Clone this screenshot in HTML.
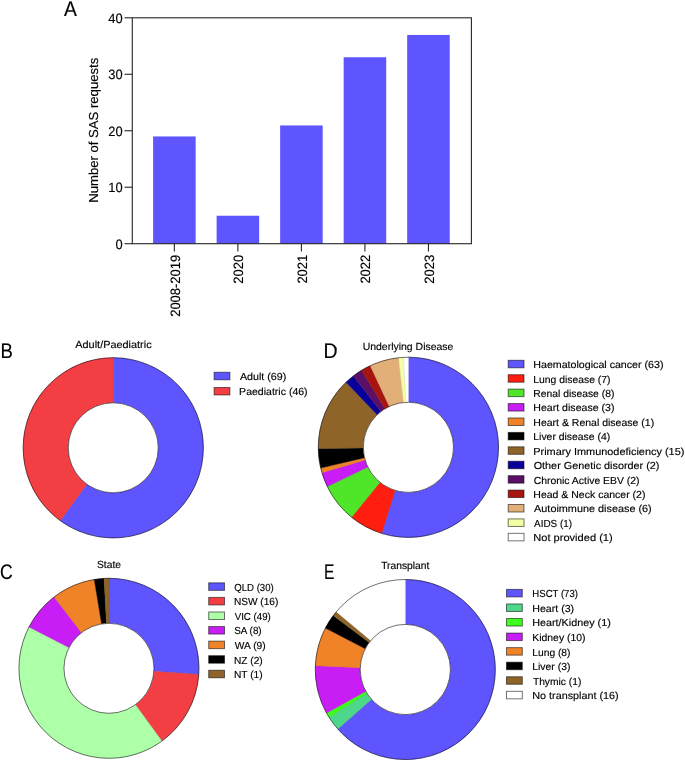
<!DOCTYPE html>
<html><head><meta charset="utf-8"><style>
html,body{margin:0;padding:0;background:#fff;width:685px;height:761px;overflow:hidden}
svg{display:block;will-change:transform;font-family:"Liberation Sans", sans-serif;text-rendering:geometricPrecision}
text{fill:#000;stroke:#000;stroke-width:0.15px}
</style></head><body>
<svg width="685" height="761" viewBox="0 0 685 761">
<rect x="153.10" y="136.45" width="42.55" height="107.25" fill="#5E55FF"/>
<rect x="216.62" y="215.75" width="42.55" height="27.95" fill="#5E55FF"/>
<rect x="280.14" y="125.45" width="42.55" height="118.25" fill="#5E55FF"/>
<rect x="343.66" y="57.25" width="42.55" height="186.45" fill="#5E55FF"/>
<rect x="407.18" y="34.95" width="42.55" height="208.75" fill="#5E55FF"/>
<line x1="174.37" y1="243.7" x2="174.37" y2="251.4" stroke="#262626" stroke-width="1.1"/>
<text transform="translate(179.72,255.35) rotate(-90) scale(0.9550,1)" x="-64.40" font-size="13.6">2008-2019</text>
<line x1="237.89" y1="243.7" x2="237.89" y2="251.4" stroke="#262626" stroke-width="1.1"/>
<text transform="translate(243.24,255.35) rotate(-90) scale(0.9550,1)" x="-29.72" font-size="13.6">2020</text>
<line x1="301.41" y1="243.7" x2="301.41" y2="251.4" stroke="#262626" stroke-width="1.1"/>
<text transform="translate(306.76,255.35) rotate(-90) scale(0.9550,1)" x="-29.58" font-size="13.6">2021</text>
<line x1="364.93" y1="243.7" x2="364.93" y2="251.4" stroke="#262626" stroke-width="1.1"/>
<text transform="translate(370.28,255.35) rotate(-90) scale(0.9550,1)" x="-29.58" font-size="13.6">2022</text>
<line x1="428.45" y1="243.7" x2="428.45" y2="251.4" stroke="#262626" stroke-width="1.1"/>
<text transform="translate(433.80,255.35) rotate(-90) scale(0.9550,1)" x="-29.65" font-size="13.6">2023</text>
<rect x="132.3" y="17.8" width="339.10" height="225.90" fill="none" stroke="#262626" stroke-width="1.1"/>
<line x1="124.5" y1="243.70" x2="132.3" y2="243.70" stroke="#262626" stroke-width="1.1"/>
<text transform="translate(115.51,248.75) scale(0.9550,1)" font-size="13.5">0</text>
<line x1="124.5" y1="187.22" x2="132.3" y2="187.22" stroke="#262626" stroke-width="1.1"/>
<text transform="translate(108.36,192.28) scale(0.9550,1)" font-size="13.5">10</text>
<line x1="124.5" y1="130.75" x2="132.3" y2="130.75" stroke="#262626" stroke-width="1.1"/>
<text transform="translate(108.36,135.80) scale(0.9550,1)" font-size="13.5">20</text>
<line x1="124.5" y1="74.28" x2="132.3" y2="74.28" stroke="#262626" stroke-width="1.1"/>
<text transform="translate(108.36,79.33) scale(0.9550,1)" font-size="13.5">30</text>
<line x1="124.5" y1="17.80" x2="132.3" y2="17.80" stroke="#262626" stroke-width="1.1"/>
<text transform="translate(108.36,22.85) scale(0.9550,1)" font-size="13.5">40</text>
<text transform="translate(98.10,130.00) rotate(-90) scale(1.0085,1)" x="-72.18" font-size="13.0">Number of SAS requests</text>
<text transform="translate(63.90,15.80) scale(0.9112,1)" font-size="21.2" stroke="#000" stroke-width="0.25">A</text>
<text transform="translate(0.47,358.10) scale(0.8729,1)" font-size="21.2" stroke="#000" stroke-width="0.25">B</text>
<text transform="translate(0.07,579.40) scale(0.8311,1)" font-size="21.2" stroke="#000" stroke-width="0.25">C</text>
<text transform="translate(323.59,357.90) scale(0.9196,1)" font-size="21.2" stroke="#000" stroke-width="0.25">D</text>
<text transform="translate(323.90,579.30) scale(0.7357,1)" font-size="21.2" stroke="#000" stroke-width="0.25">E</text>
<text transform="translate(75.30,347.60) scale(1.0579,1)" font-size="10.3">Adult/Paediatric</text>
<text transform="translate(362.66,349.70) scale(1.0163,1)" font-size="10.3">Underlying Disease</text>
<text transform="translate(96.99,567.60) scale(0.9990,1)" font-size="10.3">State</text>
<text transform="translate(381.14,569.10) scale(0.9980,1)" font-size="10.3">Transplant</text>
<path d="M113.25,357.70A90.1,90.1 0 1 1 60.29,520.69L86.80,484.21A45.0,45.0 0 1 0 113.25,402.80Z" fill="#5E55FF" stroke="#5E55FF" stroke-width="0.35"/>
<path d="M60.29,520.69A90.1,90.1 0 0 1 113.25,357.70L113.25,402.80A45.0,45.0 0 0 0 86.80,484.21Z" fill="#F33E44" stroke="#F33E44" stroke-width="0.35"/>
<line x1="113.25" y1="402.80" x2="113.25" y2="357.70" stroke="#000" stroke-opacity="0.25" stroke-width="0.35"/>
<line x1="86.80" y1="484.21" x2="60.29" y2="520.69" stroke="#000" stroke-opacity="0.25" stroke-width="0.35"/>
<circle cx="113.25" cy="447.8" r="90.1" fill="none" stroke="#000" stroke-opacity="0.7" stroke-width="0.8"/>
<circle cx="113.25" cy="447.8" r="45.0" fill="#fff" stroke="#000" stroke-opacity="0.7" stroke-width="0.8"/>
<path d="M408.40,357.20A90.1,90.1 0 1 1 381.73,533.36L395.05,490.38A45.1,45.1 0 1 0 408.40,402.20Z" fill="#5E55FF" stroke="#5E55FF" stroke-width="0.35"/>
<path d="M381.73,533.36A90.1,90.1 0 0 1 351.54,517.19L379.94,482.28A45.1,45.1 0 0 0 395.05,490.38Z" fill="#FF1E10" stroke="#FF1E10" stroke-width="0.35"/>
<path d="M351.54,517.19A90.1,90.1 0 0 1 327.30,486.55L367.80,466.95A45.1,45.1 0 0 0 379.94,482.28Z" fill="#4FE62A" stroke="#4FE62A" stroke-width="0.35"/>
<path d="M327.30,486.55A90.1,90.1 0 0 1 321.98,472.79L365.14,460.06A45.1,45.1 0 0 0 367.80,466.95Z" fill="#C81EF5" stroke="#C81EF5" stroke-width="0.35"/>
<path d="M321.98,472.79A90.1,90.1 0 0 1 320.72,468.03L364.51,457.68A45.1,45.1 0 0 0 365.14,460.06Z" fill="#F08228" stroke="#F08228" stroke-width="0.35"/>
<path d="M320.72,468.03A90.1,90.1 0 0 1 318.31,448.53L363.30,447.92A45.1,45.1 0 0 0 364.51,457.68Z" fill="#000000" stroke="#000000" stroke-width="0.35"/>
<path d="M318.31,448.53A90.1,90.1 0 0 1 346.01,382.30L377.17,414.76A45.1,45.1 0 0 0 363.30,447.92Z" fill="#8E6428" stroke="#8E6428" stroke-width="0.35"/>
<path d="M346.01,382.30A90.1,90.1 0 0 1 353.47,375.88L380.90,411.55A45.1,45.1 0 0 0 377.17,414.76Z" fill="#0A009A" stroke="#0A009A" stroke-width="0.35"/>
<path d="M353.47,375.88A90.1,90.1 0 0 1 361.59,370.32L384.97,408.77A45.1,45.1 0 0 0 380.90,411.55Z" fill="#5C0F66" stroke="#5C0F66" stroke-width="0.35"/>
<path d="M361.59,370.32A90.1,90.1 0 0 1 370.26,365.67L389.31,406.44A45.1,45.1 0 0 0 384.97,408.77Z" fill="#A8140E" stroke="#A8140E" stroke-width="0.35"/>
<path d="M370.26,365.67A90.1,90.1 0 0 1 398.57,357.74L403.48,402.47A45.1,45.1 0 0 0 389.31,406.44Z" fill="#E3AF78" stroke="#E3AF78" stroke-width="0.35"/>
<path d="M398.57,357.74A90.1,90.1 0 0 1 403.48,357.33L405.94,402.27A45.1,45.1 0 0 0 403.48,402.47Z" fill="#F5FFA3" stroke="#F5FFA3" stroke-width="0.35"/>
<path d="M403.48,357.33A90.1,90.1 0 0 1 408.40,357.20L408.40,402.20A45.1,45.1 0 0 0 405.94,402.27Z" fill="#FFFFFF" stroke="#FFFFFF" stroke-width="0.35"/>
<line x1="408.40" y1="402.20" x2="408.40" y2="357.20" stroke="#000" stroke-opacity="0.25" stroke-width="0.35"/>
<line x1="395.05" y1="490.38" x2="381.73" y2="533.36" stroke="#000" stroke-opacity="0.25" stroke-width="0.35"/>
<line x1="379.94" y1="482.28" x2="351.54" y2="517.19" stroke="#000" stroke-opacity="0.25" stroke-width="0.35"/>
<line x1="367.80" y1="466.95" x2="327.30" y2="486.55" stroke="#000" stroke-opacity="0.25" stroke-width="0.35"/>
<line x1="365.14" y1="460.06" x2="321.98" y2="472.79" stroke="#000" stroke-opacity="0.25" stroke-width="0.35"/>
<line x1="364.51" y1="457.68" x2="320.72" y2="468.03" stroke="#000" stroke-opacity="0.25" stroke-width="0.35"/>
<line x1="363.30" y1="447.92" x2="318.31" y2="448.53" stroke="#000" stroke-opacity="0.25" stroke-width="0.35"/>
<line x1="377.17" y1="414.76" x2="346.01" y2="382.30" stroke="#000" stroke-opacity="0.25" stroke-width="0.35"/>
<line x1="380.90" y1="411.55" x2="353.47" y2="375.88" stroke="#000" stroke-opacity="0.25" stroke-width="0.35"/>
<line x1="384.97" y1="408.77" x2="361.59" y2="370.32" stroke="#000" stroke-opacity="0.25" stroke-width="0.35"/>
<line x1="389.31" y1="406.44" x2="370.26" y2="365.67" stroke="#000" stroke-opacity="0.25" stroke-width="0.35"/>
<line x1="403.48" y1="402.47" x2="398.57" y2="357.74" stroke="#000" stroke-opacity="0.25" stroke-width="0.35"/>
<line x1="405.94" y1="402.27" x2="403.48" y2="357.33" stroke="#000" stroke-opacity="0.25" stroke-width="0.35"/>
<circle cx="408.4" cy="447.3" r="90.1" fill="none" stroke="#000" stroke-opacity="0.7" stroke-width="0.8"/>
<circle cx="408.4" cy="447.3" r="45.1" fill="#fff" stroke="#000" stroke-opacity="0.7" stroke-width="0.8"/>
<path d="M108.95,578.30A90.0,90.0 0 0 1 198.74,674.44L153.85,671.37A45.0,45.0 0 0 0 108.95,623.30Z" fill="#5E55FF" stroke="#5E55FF" stroke-width="0.35"/>
<path d="M198.74,674.44A90.0,90.0 0 0 1 161.85,741.11L135.40,704.71A45.0,45.0 0 0 0 153.85,671.37Z" fill="#F33E44" stroke="#F33E44" stroke-width="0.35"/>
<path d="M161.85,741.11A90.0,90.0 0 0 1 29.04,626.89L69.00,647.60A45.0,45.0 0 0 0 135.40,704.71Z" fill="#ADFFA8" stroke="#ADFFA8" stroke-width="0.35"/>
<path d="M29.04,626.89A90.0,90.0 0 0 1 54.08,596.96L81.52,632.63A45.0,45.0 0 0 0 69.00,647.60Z" fill="#C81EF5" stroke="#C81EF5" stroke-width="0.35"/>
<path d="M54.08,596.96A90.0,90.0 0 0 1 94.26,579.51L101.61,623.90A45.0,45.0 0 0 0 81.52,632.63Z" fill="#F08228" stroke="#F08228" stroke-width="0.35"/>
<path d="M94.26,579.51A90.0,90.0 0 0 1 104.04,578.43L106.49,623.37A45.0,45.0 0 0 0 101.61,623.90Z" fill="#000000" stroke="#000000" stroke-width="0.35"/>
<path d="M104.04,578.43A90.0,90.0 0 0 1 108.95,578.30L108.95,623.30A45.0,45.0 0 0 0 106.49,623.37Z" fill="#8E6428" stroke="#8E6428" stroke-width="0.35"/>
<line x1="108.95" y1="623.30" x2="108.95" y2="578.30" stroke="#000" stroke-opacity="0.25" stroke-width="0.35"/>
<line x1="153.85" y1="671.37" x2="198.74" y2="674.44" stroke="#000" stroke-opacity="0.25" stroke-width="0.35"/>
<line x1="135.40" y1="704.71" x2="161.85" y2="741.11" stroke="#000" stroke-opacity="0.25" stroke-width="0.35"/>
<line x1="69.00" y1="647.60" x2="29.04" y2="626.89" stroke="#000" stroke-opacity="0.25" stroke-width="0.35"/>
<line x1="81.52" y1="632.63" x2="54.08" y2="596.96" stroke="#000" stroke-opacity="0.25" stroke-width="0.35"/>
<line x1="101.61" y1="623.90" x2="94.26" y2="579.51" stroke="#000" stroke-opacity="0.25" stroke-width="0.35"/>
<line x1="106.49" y1="623.37" x2="104.04" y2="578.43" stroke="#000" stroke-opacity="0.25" stroke-width="0.35"/>
<circle cx="108.95" cy="668.3" r="90.0" fill="none" stroke="#000" stroke-opacity="0.7" stroke-width="0.8"/>
<circle cx="108.95" cy="668.3" r="45.0" fill="#fff" stroke="#000" stroke-opacity="0.7" stroke-width="0.8"/>
<path d="M405.30,579.50A90.0,90.0 0 1 1 337.87,729.11L371.51,699.37A45.1,45.1 0 1 0 405.30,624.40Z" fill="#5E55FF" stroke="#5E55FF" stroke-width="0.35"/>
<path d="M337.87,729.11A90.0,90.0 0 0 1 329.05,717.31L367.09,693.46A45.1,45.1 0 0 0 371.51,699.37Z" fill="#4ED68A" stroke="#4ED68A" stroke-width="0.35"/>
<path d="M329.05,717.31A90.0,90.0 0 0 1 326.55,713.07L365.84,691.33A45.1,45.1 0 0 0 367.09,693.46Z" fill="#3CFF1E" stroke="#3CFF1E" stroke-width="0.35"/>
<path d="M326.55,713.07A90.0,90.0 0 0 1 315.38,665.81L360.24,667.65A45.1,45.1 0 0 0 365.84,691.33Z" fill="#C81EF5" stroke="#C81EF5" stroke-width="0.35"/>
<path d="M315.38,665.81A90.0,90.0 0 0 1 325.39,628.09L365.26,648.75A45.1,45.1 0 0 0 360.24,667.65Z" fill="#F08228" stroke="#F08228" stroke-width="0.35"/>
<path d="M325.39,628.09A90.0,90.0 0 0 1 333.22,615.61L369.18,642.49A45.1,45.1 0 0 0 365.26,648.75Z" fill="#000000" stroke="#000000" stroke-width="0.35"/>
<path d="M333.22,615.61A90.0,90.0 0 0 1 336.27,611.75L370.71,640.56A45.1,45.1 0 0 0 369.18,642.49Z" fill="#8E6428" stroke="#8E6428" stroke-width="0.35"/>
<path d="M336.27,611.75A90.0,90.0 0 0 1 405.30,579.50L405.30,624.40A45.1,45.1 0 0 0 370.71,640.56Z" fill="#FFFFFF" stroke="#FFFFFF" stroke-width="0.35"/>
<line x1="405.30" y1="624.40" x2="405.30" y2="579.50" stroke="#000" stroke-opacity="0.25" stroke-width="0.35"/>
<line x1="371.51" y1="699.37" x2="337.87" y2="729.11" stroke="#000" stroke-opacity="0.25" stroke-width="0.35"/>
<line x1="367.09" y1="693.46" x2="329.05" y2="717.31" stroke="#000" stroke-opacity="0.25" stroke-width="0.35"/>
<line x1="365.84" y1="691.33" x2="326.55" y2="713.07" stroke="#000" stroke-opacity="0.25" stroke-width="0.35"/>
<line x1="360.24" y1="667.65" x2="315.38" y2="665.81" stroke="#000" stroke-opacity="0.25" stroke-width="0.35"/>
<line x1="365.26" y1="648.75" x2="325.39" y2="628.09" stroke="#000" stroke-opacity="0.25" stroke-width="0.35"/>
<line x1="369.18" y1="642.49" x2="333.22" y2="615.61" stroke="#000" stroke-opacity="0.25" stroke-width="0.35"/>
<line x1="370.71" y1="640.56" x2="336.27" y2="611.75" stroke="#000" stroke-opacity="0.25" stroke-width="0.35"/>
<circle cx="405.3" cy="669.5" r="90.0" fill="none" stroke="#000" stroke-opacity="0.7" stroke-width="0.8"/>
<circle cx="405.3" cy="669.5" r="45.1" fill="#fff" stroke="#000" stroke-opacity="0.7" stroke-width="0.8"/>
<rect x="214.10" y="372.27" width="15.80" height="7.50" fill="#5E55FF" stroke="#000" stroke-opacity="0.55" stroke-width="1.0"/>
<text transform="translate(239.90,380.17) scale(1.0516,1)" font-size="10.2">Adult (69)</text>
<rect x="214.10" y="387.45" width="15.80" height="7.50" fill="#F33E44" stroke="#000" stroke-opacity="0.55" stroke-width="1.0"/>
<text transform="translate(239.11,395.35) scale(1.0343,1)" font-size="10.2">Paediatric (46)</text>
<rect x="508.20" y="360.30" width="15.80" height="7.50" fill="#5E55FF" stroke="#000" stroke-opacity="0.55" stroke-width="1.0"/>
<text transform="translate(533.30,368.20) scale(1.0449,1)" font-size="10.2">Haematological cancer (63)</text>
<rect x="508.20" y="374.72" width="15.80" height="7.50" fill="#FF1E10" stroke="#000" stroke-opacity="0.55" stroke-width="1.0"/>
<text transform="translate(533.32,382.62) scale(1.0173,1)" font-size="10.2">Lung disease (7)</text>
<rect x="508.20" y="389.14" width="15.80" height="7.50" fill="#4FE62A" stroke="#000" stroke-opacity="0.55" stroke-width="1.0"/>
<text transform="translate(533.32,397.04) scale(1.0154,1)" font-size="10.2">Renal disease (8)</text>
<rect x="508.20" y="403.56" width="15.80" height="7.50" fill="#C81EF5" stroke="#000" stroke-opacity="0.55" stroke-width="1.0"/>
<text transform="translate(533.30,411.46) scale(1.0384,1)" font-size="10.2">Heart disease (3)</text>
<rect x="508.20" y="417.98" width="15.80" height="7.50" fill="#F08228" stroke="#000" stroke-opacity="0.55" stroke-width="1.0"/>
<text transform="translate(533.31,425.88) scale(1.0309,1)" font-size="10.2">Heart &amp; Renal disease (1)</text>
<rect x="508.20" y="432.40" width="15.80" height="7.50" fill="#000000" stroke="#000" stroke-opacity="0.55" stroke-width="1.0"/>
<text transform="translate(533.32,440.30) scale(1.0210,1)" font-size="10.2">Liver disease (4)</text>
<rect x="508.20" y="446.82" width="15.80" height="7.50" fill="#8E6428" stroke="#000" stroke-opacity="0.55" stroke-width="1.0"/>
<text transform="translate(533.28,454.72) scale(1.0717,1)" font-size="10.2">Primary Immunodeficiency (15)</text>
<rect x="508.20" y="461.24" width="15.80" height="7.50" fill="#0A009A" stroke="#000" stroke-opacity="0.55" stroke-width="1.0"/>
<text transform="translate(533.66,469.14) scale(1.0630,1)" font-size="10.2">Other Genetic disorder (2)</text>
<rect x="508.20" y="475.66" width="15.80" height="7.50" fill="#5C0F66" stroke="#000" stroke-opacity="0.55" stroke-width="1.0"/>
<text transform="translate(533.63,483.56) scale(1.0223,1)" font-size="10.2">Chronic Active EBV (2)</text>
<rect x="508.20" y="490.08" width="15.80" height="7.50" fill="#A8140E" stroke="#000" stroke-opacity="0.55" stroke-width="1.0"/>
<text transform="translate(533.31,497.98) scale(1.0316,1)" font-size="10.2">Head &amp; Neck cancer (2)</text>
<rect x="508.20" y="504.50" width="15.80" height="7.50" fill="#E3AF78" stroke="#000" stroke-opacity="0.55" stroke-width="1.0"/>
<text transform="translate(534.10,512.40) scale(1.0650,1)" font-size="10.2">Autoimmune disease (6)</text>
<rect x="508.20" y="518.92" width="15.80" height="7.50" fill="#F5FFA3" stroke="#000" stroke-opacity="0.55" stroke-width="1.0"/>
<text transform="translate(534.10,526.82) scale(0.9713,1)" font-size="10.2">AIDS (1)</text>
<rect x="508.20" y="533.34" width="15.80" height="7.50" fill="#FFFFFF" stroke="#000" stroke-opacity="0.55" stroke-width="1.0"/>
<text transform="translate(533.26,541.24) scale(1.0872,1)" font-size="10.2">Not provided (1)</text>
<rect x="208.70" y="582.85" width="15.80" height="7.50" fill="#5E55FF" stroke="#000" stroke-opacity="0.55" stroke-width="1.0"/>
<text transform="translate(234.32,590.75) scale(0.9400,1)" font-size="10.2">QLD (30)</text>
<rect x="208.70" y="597.42" width="15.80" height="7.50" fill="#F33E44" stroke="#000" stroke-opacity="0.55" stroke-width="1.0"/>
<text transform="translate(233.94,605.32) scale(0.9931,1)" font-size="10.2">NSW (16)</text>
<rect x="208.70" y="611.99" width="15.80" height="7.50" fill="#ADFFA8" stroke="#000" stroke-opacity="0.55" stroke-width="1.0"/>
<text transform="translate(234.70,619.89) scale(0.9522,1)" font-size="10.2">VIC (49)</text>
<rect x="208.70" y="626.56" width="15.80" height="7.50" fill="#C81EF5" stroke="#000" stroke-opacity="0.55" stroke-width="1.0"/>
<text transform="translate(234.31,634.46) scale(0.9657,1)" font-size="10.2">SA (8)</text>
<rect x="208.70" y="641.13" width="15.80" height="7.50" fill="#F08228" stroke="#000" stroke-opacity="0.55" stroke-width="1.0"/>
<text transform="translate(234.70,649.03) scale(1.0070,1)" font-size="10.2">WA (9)</text>
<rect x="208.70" y="655.70" width="15.80" height="7.50" fill="#000000" stroke="#000" stroke-opacity="0.55" stroke-width="1.0"/>
<text transform="translate(233.94,663.60) scale(0.9950,1)" font-size="10.2">NZ (2)</text>
<rect x="208.70" y="670.27" width="15.80" height="7.50" fill="#8E6428" stroke="#000" stroke-opacity="0.55" stroke-width="1.0"/>
<text transform="translate(233.93,678.17) scale(1.0024,1)" font-size="10.2">NT (1)</text>
<rect x="506.50" y="589.40" width="15.80" height="7.50" fill="#5E55FF" stroke="#000" stroke-opacity="0.55" stroke-width="1.0"/>
<text transform="translate(532.33,597.30) scale(0.9400,1)" font-size="10.2">HSCT (73)</text>
<rect x="506.50" y="603.96" width="15.80" height="7.50" fill="#4ED68A" stroke="#000" stroke-opacity="0.55" stroke-width="1.0"/>
<text transform="translate(532.25,611.86) scale(1.0410,1)" font-size="10.2">Heart (3)</text>
<rect x="506.50" y="618.52" width="15.80" height="7.50" fill="#3CFF1E" stroke="#000" stroke-opacity="0.55" stroke-width="1.0"/>
<text transform="translate(532.24,626.42) scale(1.0580,1)" font-size="10.2">Heart/Kidney (1)</text>
<rect x="506.50" y="633.08" width="15.80" height="7.50" fill="#C81EF5" stroke="#000" stroke-opacity="0.55" stroke-width="1.0"/>
<text transform="translate(532.27,640.98) scale(1.0228,1)" font-size="10.2">Kidney (10)</text>
<rect x="506.50" y="647.64" width="15.80" height="7.50" fill="#F08228" stroke="#000" stroke-opacity="0.55" stroke-width="1.0"/>
<text transform="translate(532.28,655.54) scale(1.0064,1)" font-size="10.2">Lung (8)</text>
<rect x="506.50" y="662.20" width="15.80" height="7.50" fill="#000000" stroke="#000" stroke-opacity="0.55" stroke-width="1.0"/>
<text transform="translate(532.27,670.10) scale(1.0221,1)" font-size="10.2">Liver (3)</text>
<rect x="506.50" y="676.76" width="15.80" height="7.50" fill="#8E6428" stroke="#000" stroke-opacity="0.55" stroke-width="1.0"/>
<text transform="translate(532.89,684.66) scale(1.0068,1)" font-size="10.2">Thymic (1)</text>
<rect x="506.50" y="691.32" width="15.80" height="7.50" fill="#FFFFFF" stroke="#000" stroke-opacity="0.55" stroke-width="1.0"/>
<text transform="translate(532.24,699.22) scale(1.0596,1)" font-size="10.2">No transplant (16)</text>
</svg>
</body></html>
